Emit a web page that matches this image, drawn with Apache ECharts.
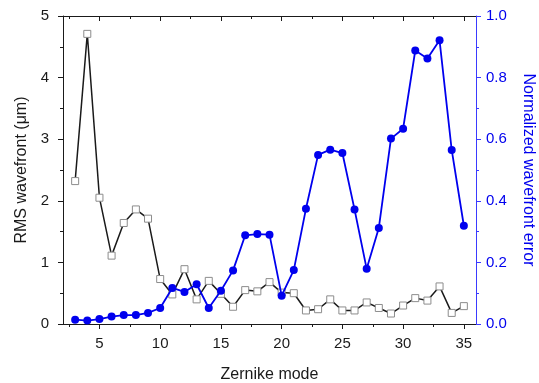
<!DOCTYPE html>
<html>
<head>
<meta charset="utf-8">
<script src="https://cdn.jsdelivr.net/npm/echarts@6/dist/echarts.min.js"></script>
<style>
  html, body { margin: 0; padding: 0; background: #fff; }
  #chart { width: 539px; height: 383px; }
</style>
</head>
<body>
<div id="chart"></div>
<script>
// Zernike modes 3..35
const modes = [3, 4, 5, 6, 7, 8, 9, 10, 11, 12, 13, 14, 15, 16, 17, 18, 19,
  20, 21, 22, 23, 24, 25, 26, 27, 28, 29, 30, 31, 32, 33, 34, 35];
// RMS wavefront (um), left axis
const rmsValues = [2.32, 4.71, 2.05, 1.11, 1.64, 1.86, 1.71, 0.73, 0.48, 0.89, 0.40,
  0.70, 0.49, 0.28, 0.55, 0.53, 0.68, 0.51, 0.50, 0.22, 0.24, 0.40, 0.22, 0.22,
  0.35, 0.26, 0.17, 0.30, 0.42, 0.38, 0.61, 0.18, 0.29];
// normalized wavefront error, right axis
const errValues = [0.014, 0.011, 0.016, 0.024, 0.029, 0.029, 0.036, 0.052, 0.117,
  0.104, 0.129, 0.052, 0.108, 0.174, 0.288, 0.292, 0.290, 0.092, 0.175, 0.374,
  0.549, 0.566, 0.555, 0.372, 0.179, 0.312, 0.602, 0.634, 0.888, 0.862, 0.921,
  0.565, 0.319];
const xMajor = [5, 10, 15, 20, 25, 30, 35];
const xMinor = [2.5, 7.5, 12.5, 17.5, 22.5, 27.5, 32.5];

const font = 'Liberation Sans';
const black = '#1a1a1a';
const blue = '#0000ee';
const blueAxis = '#3a3aff';

const chart = echarts.init(document.getElementById('chart'));

const pairs = vals => modes.map((m, i) => [m, vals[i]]);

chart.setOption({
  animation: false,
  textStyle: { fontFamily: font },
  grid: { left: 63, right: 63, top: 16, bottom: 59, outerBoundsMode: 'none', containLabel: false },
  xAxis: [
    {
      type: 'value',
      position: 'bottom',
      min: 2,
      max: 36,
      name: 'Zernike mode',
      nameLocation: 'middle',
      nameGap: 43,
      nameTextStyle: { fontSize: 16, color: black, fontFamily: font },
      axisLine: { lineStyle: { color: black, width: 1 } },
      axisTick: { show: true, inside: false, length: 5, customValues: xMajor, lineStyle: { color: black } },
      axisLabel: { customValues: xMajor, fontSize: 15, color: black, margin: 12, fontFamily: font },
      splitLine: { show: false },
    },
    {
      type: 'value',
      position: 'bottom',
      min: 2,
      max: 36,
      axisLine: { show: false },
      axisTick: { show: true, inside: false, length: 3, customValues: xMinor, lineStyle: { color: black } },
      axisLabel: { show: false },
      splitLine: { show: false },
    },
    {
      type: 'value',
      position: 'top',
      min: 2,
      max: 36,
      axisLine: { lineStyle: { color: black, width: 1 } },
      axisTick: { show: true, inside: true, length: 5, customValues: xMajor, lineStyle: { color: black } },
      axisLabel: { show: false },
      splitLine: { show: false },
    },
    {
      type: 'value',
      position: 'top',
      min: 2,
      max: 36,
      axisLine: { show: false },
      axisTick: { show: true, inside: true, length: 3, customValues: xMinor, lineStyle: { color: black } },
      axisLabel: { show: false },
      splitLine: { show: false },
    },
  ],
  yAxis: [
    {
      type: 'value',
      position: 'left',
      min: 0,
      max: 5,
      interval: 1,
      name: 'RMS wavefront (\u03bcm)',
      nameLocation: 'middle',
      nameRotate: 90,
      nameGap: 33,
      nameTextStyle: { fontSize: 16, color: black, fontFamily: font },
      axisLine: { show: true, lineStyle: { color: black, width: 1 } },
      axisTick: { show: true, inside: false, length: 5, lineStyle: { color: black } },
      minorTick: { show: true, splitNumber: 2, length: 3, lineStyle: { color: black } },
      axisLabel: { fontSize: 15, color: black, margin: 14, fontFamily: font },
      splitLine: { show: false },
    },
    {
      type: 'value',
      position: 'right',
      min: 0,
      max: 1,
      interval: 0.2,
      name: 'Normalized wavefront error',
      nameLocation: 'middle',
      nameRotate: -90,
      nameGap: 44,
      nameTextStyle: { fontSize: 16, color: blue, fontFamily: font },
      axisLine: { show: true, lineStyle: { color: blueAxis, width: 1 } },
      axisTick: { show: true, inside: false, length: 5, lineStyle: { color: blueAxis } },
      minorTick: { show: true, splitNumber: 2, length: 3, lineStyle: { color: blueAxis } },
      axisLabel: { fontSize: 15, color: blue, margin: 10, fontFamily: font, formatter: v => v.toFixed(1) },
      splitLine: { show: false },
    },
  ],
  series: [
    {
      type: 'line',
      name: 'RMS wavefront',
      xAxisIndex: 0,
      yAxisIndex: 0,
      data: pairs(rmsValues),
      symbol: 'rect',
      symbolSize: 7,
      showAllSymbol: true,
      z: 2,
      lineStyle: { color: black, width: 1.5 },
      itemStyle: { color: '#fff', borderColor: '#8c8c8c', borderWidth: 1 },
    },
    {
      type: 'line',
      name: 'Normalized wavefront error',
      xAxisIndex: 0,
      yAxisIndex: 1,
      data: pairs(errValues),
      symbol: 'circle',
      symbolSize: 8,
      showAllSymbol: true,
      z: 3,
      lineStyle: { color: blue, width: 1.8 },
      itemStyle: { color: blue, borderWidth: 0 },
    },
  ],
});
</script>
</body>
</html>
